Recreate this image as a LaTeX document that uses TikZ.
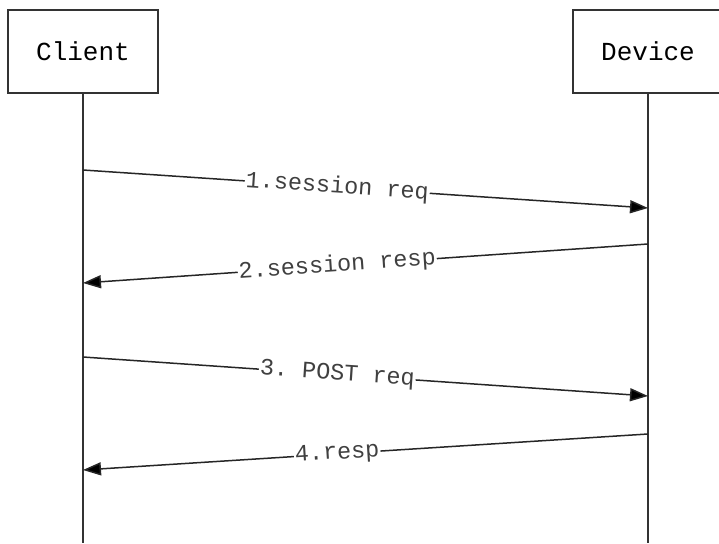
\documentclass[tikz,border=0pt]{standalone}
\usepackage{fontspec}
\setmonofont{Liberation Mono}
\usetikzlibrary{arrows.meta,positioning}

\begin{document}
\begin{tikzpicture}[x=1pt,y=-1pt,>={Triangle[length=18pt,width=13pt]}]
  \tikzstyle{actor}=[rectangle,draw=black!80,line width=1.5pt,minimum width=150pt,
        minimum height=83pt,font=\ttfamily\fontsize{26}{26}\selectfont]
  \tikzstyle{lifeline}=[draw=black!80,line width=1.5pt]
  \tikzstyle{msg}=[draw=black!85,line width=1.5pt,->,arrows={->[fill=black]}]
  \tikzstyle{msglabel}=[fill=white,sloped,inner sep=1pt,text=black!75,
        font=\ttfamily\fontsize{23.5}{23.5}\selectfont]
  \clip (0,0) rectangle (719,543);
    \node [actor] (client) at (83,51.5) {Client};
    \node [actor] (device) at (648,51.5) {Device};
    \coordinate (clientend) at (83,543);
    \coordinate (deviceend) at (648,543);
    \draw [lifeline] (client) -- (clientend);
    \draw [lifeline] (device) -- (deviceend);
    % messages
    \coordinate (c1) at (83,170);  \coordinate (d1) at (648,208);
    \coordinate (d2) at (648,244); \coordinate (c2) at (83,283);
    \coordinate (c3) at (83,357);  \coordinate (d3) at (648,396);
    \coordinate (d4) at (648,434); \coordinate (c4) at (83,470);
    \draw [msg] (c1) -- node [msglabel,pos=0.45] {1.session req} (d1);
    \draw [msg] (d2) -- node [msglabel,pos=0.55] {2.session resp} (c2);
    \draw [msg] (c3) -- node [msglabel,pos=0.45] {3. POST req} (d3);
    \draw [msg] (d4) -- node [msglabel,pos=0.55] {4.resp} (c4);
\end{tikzpicture}
\end{document}
